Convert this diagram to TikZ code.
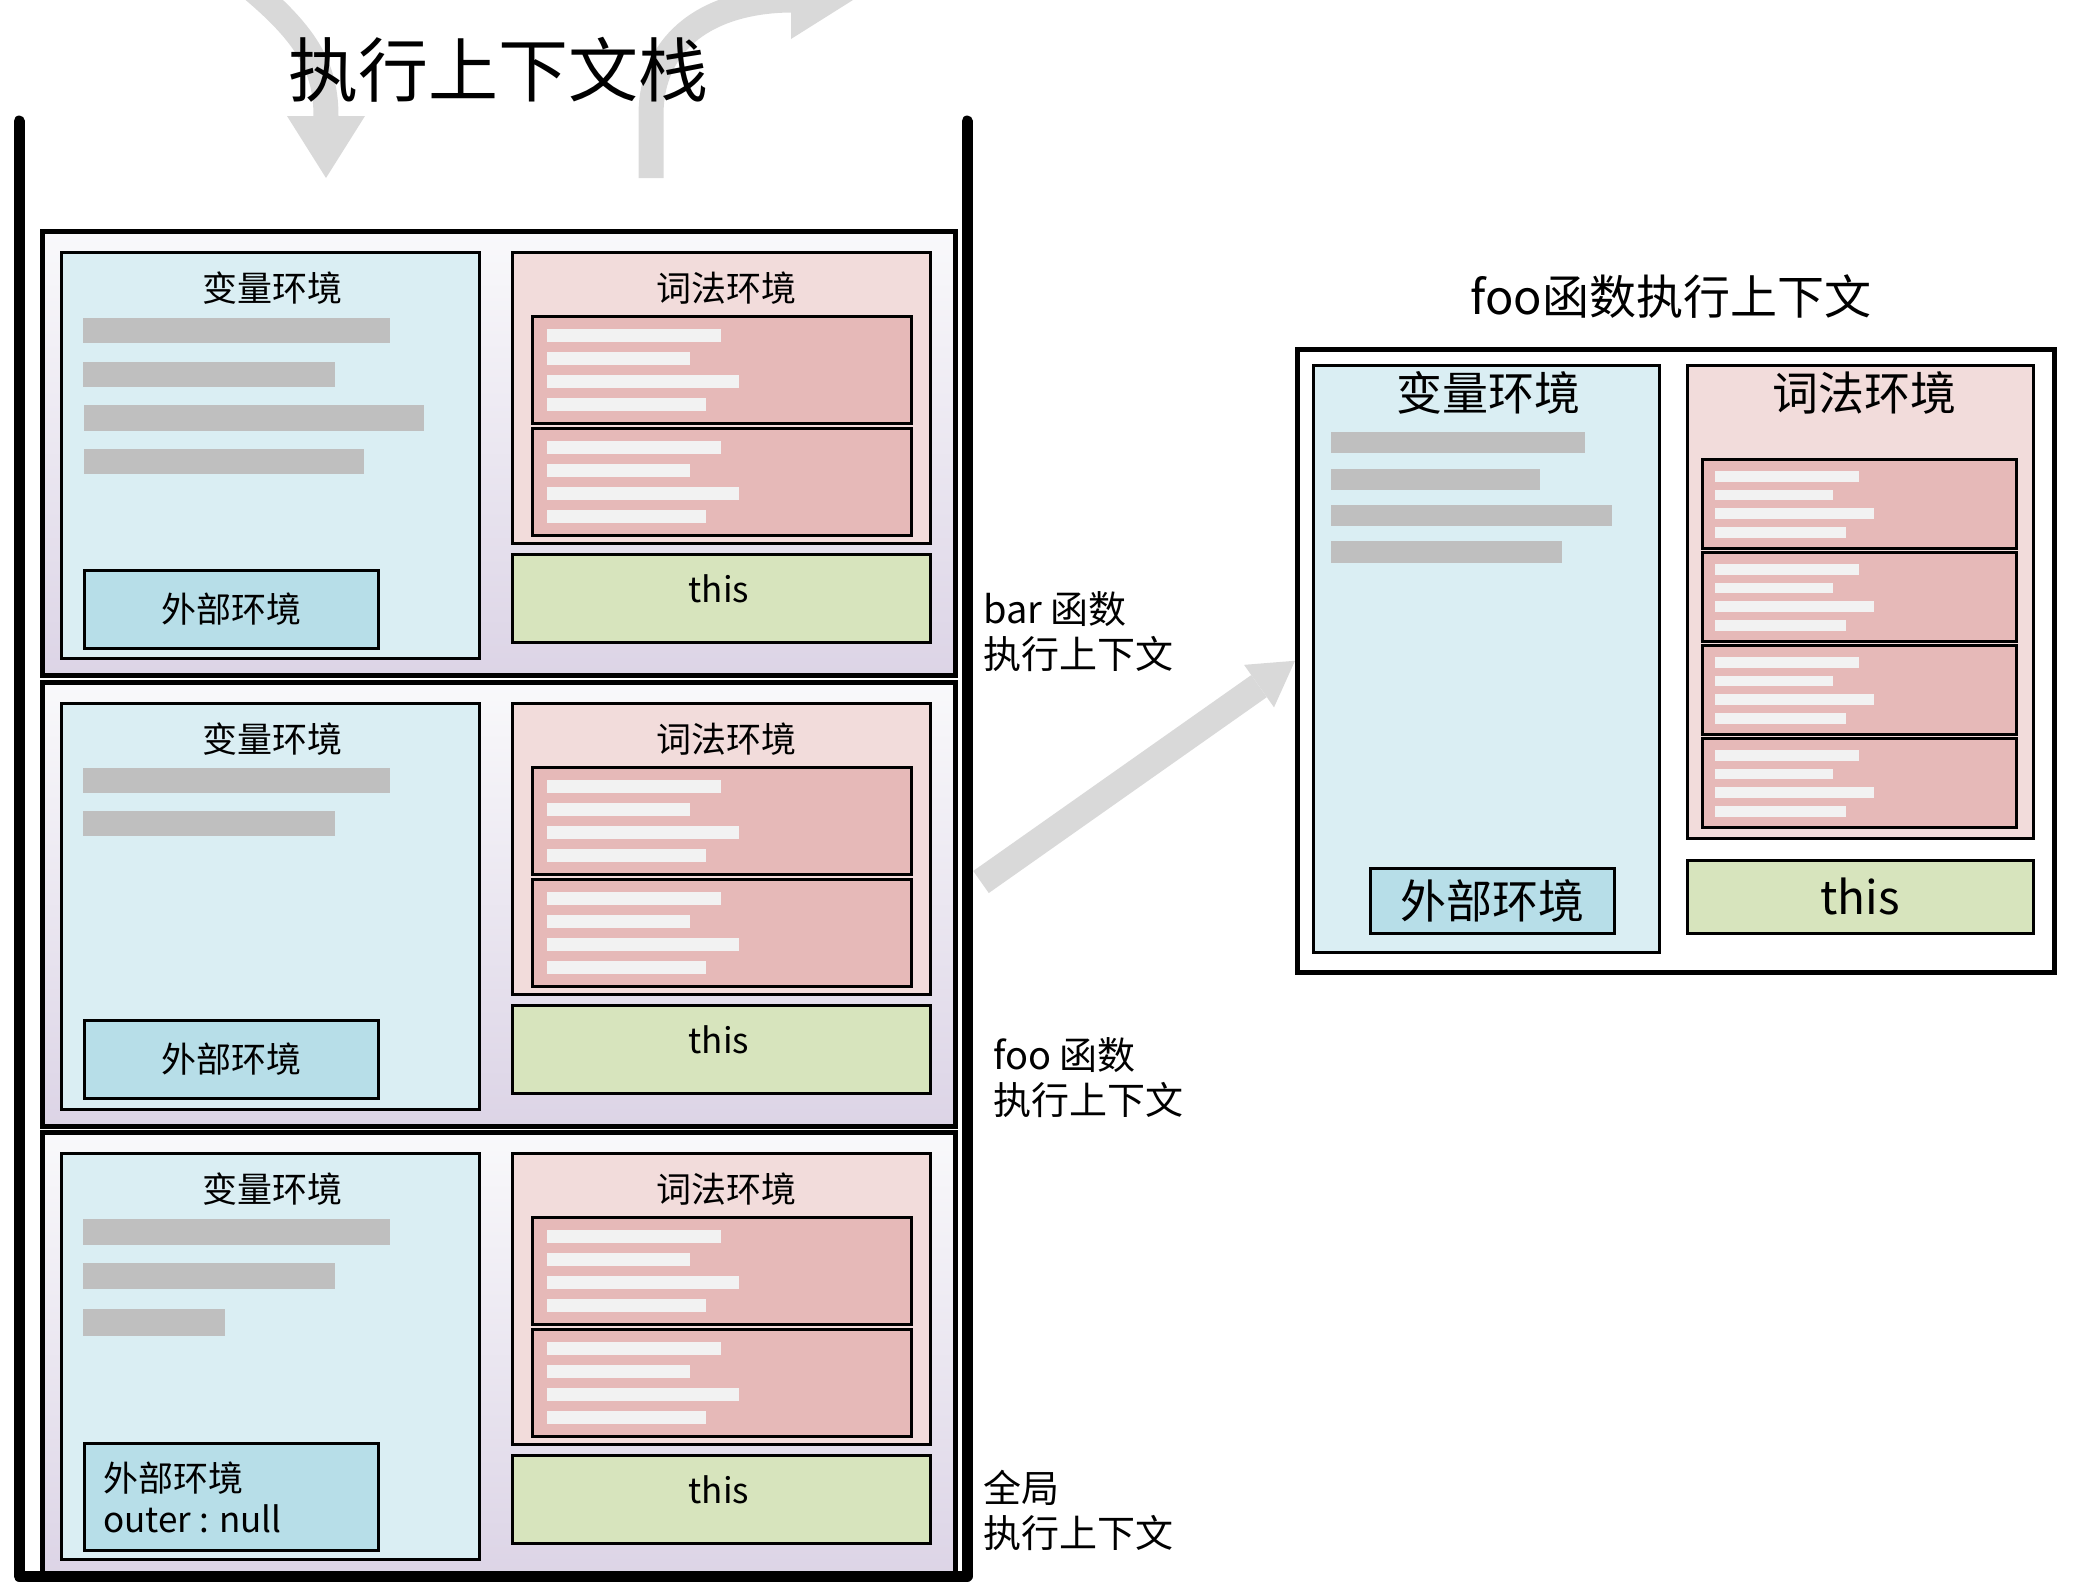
\documentclass[tikz,border=0pt]{standalone}
\usepackage{fontspec}
\setmainfont{Noto Sans CJK SC}
\usetikzlibrary{arrows.meta,positioning}
\definecolor{varblue}{HTML}{DAEEF3}
\definecolor{outerblue}{HTML}{B7DEE8}
\definecolor{lexpink}{HTML}{F2DCDB}
\definecolor{recred}{HTML}{E6B9B8}
\definecolor{thisgreen}{HTML}{D7E4BD}
\definecolor{bargray}{HTML}{BFBFBF}
\definecolor{barwhite}{HTML}{F2F2F2}
\definecolor{arrowgray}{HTML}{D9D9D9}
\definecolor{frametop}{HTML}{F9F9FB}
\definecolor{framebot}{HTML}{DCD4E6}

\begin{document}
\begin{tikzpicture}[x=1pt, y=-1pt,
  ctx/.style={draw=black, line width=4.5pt, top color=frametop, bottom color=framebot, minimum width=913pt, minimum height=444pt, anchor=north west, inner sep=0pt},
  varbox/.style={draw=black, line width=2.7pt, fill=varblue, anchor=north west, inner sep=0pt},
  lexbox/.style={draw=black, line width=2.7pt, fill=lexpink, anchor=north west, inner sep=0pt},
  recbox/.style={draw=black, line width=3pt, fill=recred, minimum width=379pt, minimum height=107pt, anchor=north west, inner sep=0pt},
  thisbox/.style={draw=black, line width=2.7pt, fill=thisgreen, anchor=north west, inner sep=0pt},
  outerbox/.style={draw=black, line width=2.7pt, fill=outerblue, anchor=north west, inner sep=0pt, font=\fontsize{35}{41}\selectfont},
  boxtitle/.style={font=\fontsize{35}{41}\selectfont, inner sep=0pt},
  bigtext/.style={font=\fontsize{46}{55}\selectfont, inner sep=0pt},
  sidelabel/.style={font=\fontsize{38}{45}\selectfont, align=left, anchor=west, inner sep=0pt},
  wall/.style={line width=11pt, line cap=round, line join=round},
  pushpop/.style={draw=arrowgray, line width=25pt, -{Triangle[width=78pt, length=62pt, line width=0pt]}},
  bigarrow/.style={draw=arrowgray, line width=27pt, -{Triangle[width=52pt, length=44pt, line width=0pt]}}
]
\useasboundingbox (0,0) rectangle (2078,1593);

% push / pop arrows above the stack
\begin{scope}
  \clip (0,0) rectangle (2078,1593);
  \coordinate (pushin) at (222,-35);
  \coordinate (pushend) at (326,178);
  \coordinate (popout) at (651,178);
  \coordinate (popend) at (853,0);
  \draw[pushpop] (pushin) .. controls (300,25) and (326,60) .. (326,116) -- (pushend);
  \draw[pushpop] (popout) -- (651,115) .. controls (651,40) and (710,0) .. (793,0) -- (popend);
\end{scope}

\node[font=\fontsize{70}{84}\selectfont, inner sep=0pt] (stacktitle) at (498,70) {执行上下文栈};

% the three execution contexts
\foreach \i/\fy in {1/229,2/680,3/1130}{
  \node[ctx] (ctx\i) at (40,\fy) {};
  \node[varbox, minimum width=418pt, minimum height=406pt] (var\i) at (60,\fy+22) {};
  \node[lexbox, minimum width=418pt, minimum height=291pt] (lex\i) at (511,\fy+22) {};
  \node[thisbox, minimum width=418pt, minimum height=88pt] (this\i) at (511,\fy+324) {};
  \node[boxtitle] (vart\i) at (272,\fy+59) {变量环境};
  \node[boxtitle] (lext\i) at (726,\fy+59) {词法环境};
  \node[boxtitle] (thist\i) at (719,\fy+360) {this};
  \foreach \j/\ry in {a/86,b/198}{
    \node[recbox] (rec\i\j) at (531,\fy+\ry) {};
    \foreach \k/\xe in {0/721,1/690,2/739,3/706}
      \fill[barwhite] (547,\fy+\ry+14+23*\k) rectangle (\xe,\fy+\ry+27+23*\k);
  }
}

% bar
\fill[bargray] (83,318) rectangle (390,343);
\fill[bargray] (83,362) rectangle (335,387);
\fill[bargray] (84,405) rectangle (424,431);
\fill[bargray] (84,449) rectangle (364,474);
\node[outerbox, minimum width=294pt, minimum height=78pt] (outer1) at (83,569) {外部环境};

% foo
\fill[bargray] (83,768) rectangle (390,793);
\fill[bargray] (83,811) rectangle (335,836);
\node[outerbox, minimum width=294pt, minimum height=78pt] (outer2) at (83,1019) {外部环境};

% global
\fill[bargray] (83,1219) rectangle (390,1245);
\fill[bargray] (83,1263) rectangle (335,1289);
\fill[bargray] (83,1309) rectangle (225,1336);
\node[outerbox, minimum width=294pt, minimum height=107pt] (outer3) at (83,1442) {};
\node[boxtitle, align=left, anchor=west] (outer3t) at (103,1497) {外部环境\\outer : null};

% stack walls
\draw[wall] (19,121) -- (19,1576) -- (967,1576) -- (967,121);

\node[sidelabel] (barlbl) at (983,632) {bar 函数\\执行上下文};
\node[sidelabel] (foolbl) at (993,1078) {foo 函数\\执行上下文};
\node[sidelabel] (globlbl) at (983,1510) {全局\\执行上下文};

% foo context in detail
\node[font=\fontsize{47}{56}\selectfont, inner sep=0pt] (detailt) at (1671,297) {foo函数执行上下文};
\node[draw=black, line width=4.5pt, fill=white, minimum width=757pt, minimum height=623pt, anchor=north west, inner sep=0pt] (detail) at (1295,347) {};
\node[varbox, minimum width=346pt, minimum height=587pt] (dvar) at (1312,364) {};
\node[bigtext] (dvart) at (1488,393) {变量环境};
\fill[bargray] (1331,432) rectangle (1585,453);
\fill[bargray] (1331,469) rectangle (1540,490);
\fill[bargray] (1331,505) rectangle (1612,526);
\fill[bargray] (1331,541) rectangle (1562,563);
\node[outerbox, font=\fontsize{46}{55}\selectfont, minimum width=244pt, minimum height=65pt] (douter) at (1369,867) {外部环境};
\node[lexbox, minimum width=346pt, minimum height=473pt] (dlex) at (1686,364) {};
\node[bigtext] (dlext) at (1864,393) {词法环境};
\foreach \ry [count=\n] in {458,551,644,737}{
  \node[recbox, minimum width=314pt, minimum height=89pt] (drec\n) at (1701,\ry) {};
  \foreach \k/\xe in {0/1859,1/1833,2/1874,3/1846}
    \fill[barwhite] (1715,\ry+13+18.7*\k) rectangle (\xe,\ry+23.5+18.7*\k);
}
\node[thisbox, font=\fontsize{46}{55}\selectfont, minimum width=346pt, minimum height=73pt] (dthis) at (1686,859) {this};

\coordinate (popstart) at (981,882);
\draw[bigarrow] (popstart) -- (detail.west);
\end{tikzpicture}
\end{document}
